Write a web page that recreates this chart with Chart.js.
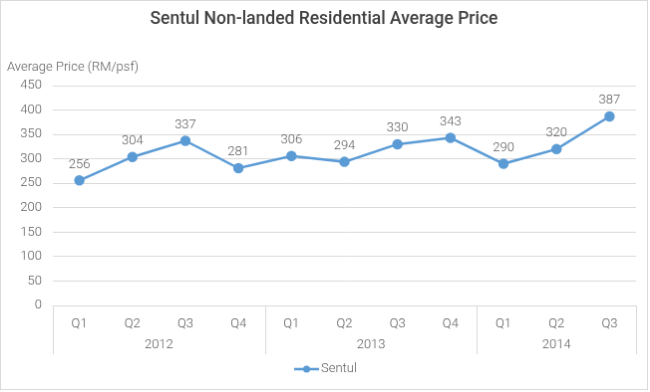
<!DOCTYPE html>
<html>
<head>
<meta charset="utf-8">
<script src="https://cdn.jsdelivr.net/npm/chart.js@4.4.1/dist/chart.umd.min.js"></script>
<style>
  html, body { margin: 0; padding: 0; background: #fff; }
  #chart { display: block; border: 1px solid #d9d9d9; }
</style>
</head>
<body>
<canvas id="chart" width="648" height="390"></canvas>
<script>
const quarters = ["Q1", "Q2", "Q3", "Q4", "Q1", "Q2", "Q3", "Q4", "Q1", "Q2", "Q3"];
const years = ["2012", "2012", "2012", "2012", "2013", "2013", "2013", "2013", "2014", "2014", "2014"];
const sentul = [256, 304, 337, 281, 306, 294, 330, 343, 290, 320, 387];
const yTicks = [0, 50, 100, 150, 200, 250, 300, 350, 400, 450];

const FONT = 'Roboto, "DejaVu Sans Condensed", sans-serif';
const TEXT = "#595959";
const BLUE = "#5b9bd5";

// titre, axe, années, étiquettes et légende dessinés à la main
const extrasPlugin = {
  id: "extras",
  afterDraw(chart) {
    const { ctx, chartArea } = chart;
    const x = chart.scales.x;
    ctx.save();

    // titre
    ctx.fillStyle = "#404040";
    ctx.font = "500 17.5px " + FONT;
    ctx.textAlign = "center";
    ctx.textBaseline = "middle";
    ctx.fillText("Sentul Non-landed Residential Average Price", 324, 19);

    // titre de l'axe Y
    ctx.fillStyle = TEXT;
    ctx.font = "300 13px " + FONT;
    ctx.textAlign = "left";
    ctx.fillText("Average Price (RM/psf)", 6, 67);

    // étiquettes des valeurs
    const meta = chart.getDatasetMeta(0);
    ctx.textAlign = "center";
    meta.data.forEach((pt, i) => {
      ctx.fillText(String(sentul[i]), pt.x, pt.y - 16);
    });

    // groupes d'années
    const step = x.getPixelForValue(1) - x.getPixelForValue(0);
    const groups = [];
    years.forEach((y, i) => {
      const g = groups[groups.length - 1];
      if (g && g.year === y) g.end = i;
      else groups.push({ year: y, start: i, end: i });
    });
    ctx.strokeStyle = "#d9d9d9";
    ctx.lineWidth = 1;
    const bottom = chartArea.bottom + 49;
    groups.forEach((g, k) => {
      const left = x.getPixelForValue(g.start) - step / 2;
      const right = x.getPixelForValue(g.end) + step / 2;
      ctx.fillText(g.year, (left + right) / 2, chartArea.bottom + 40);
      const edges = k === 0 ? [left, right] : [right];
      edges.forEach(e => {
        const ex = Math.round(e) + 0.5;
        ctx.beginPath();
        ctx.moveTo(ex, chartArea.bottom);
        ctx.lineTo(ex, bottom);
        ctx.stroke();
      });
    });

    // légende
    const ly = 370;
    ctx.strokeStyle = BLUE;
    ctx.lineWidth = 2.5;
    ctx.beginPath();
    ctx.moveTo(294, ly);
    ctx.lineTo(319, ly);
    ctx.stroke();
    ctx.fillStyle = BLUE;
    ctx.beginPath();
    ctx.arc(306.5, ly, 3.5, 0, Math.PI * 2);
    ctx.fill();
    ctx.fillStyle = TEXT;
    ctx.textAlign = "left";
    ctx.fillText("Sentul", 321, ly);

    ctx.restore();
  }
};

new Chart(document.getElementById("chart"), {
  type: "line",
  data: {
    labels: quarters,
    datasets: [{
      label: "Sentul",
      data: sentul,
      borderColor: BLUE,
      backgroundColor: BLUE,
      borderWidth: 2.5,
      pointRadius: 4,
      pointHoverRadius: 4,
      tension: 0
    }]
  },
  options: {
    responsive: false,
    animation: false,
    layout: { padding: { top: 85, left: 0, right: 11, bottom: 35 } },
    plugins: {
      legend: { display: false },
      title: { display: false },
      tooltip: { enabled: false }
    },
    scales: {
      x: {
        offset: true,
        grid: { display: false, drawTicks: false },
        border: { color: "#d9d9d9" },
        ticks: { color: TEXT, font: { family: FONT, size: 13, weight: 300 }, padding: 11, maxRotation: 0 },
        afterFit(scale) { scale.height = 49; }
      },
      y: {
        min: 0,
        max: 450,
        afterBuildTicks(scale) { scale.ticks = yTicks.map(v => ({ value: v })); },
        grid: { color: "#d9d9d9", drawTicks: false },
        border: { display: false },
        ticks: { color: TEXT, font: { family: FONT, size: 13, weight: 300 }, padding: 11 },
        afterFit(scale) { scale.width = 52; }
      }
    }
  },
  plugins: [extrasPlugin]
});
</script>
</body>
</html>
